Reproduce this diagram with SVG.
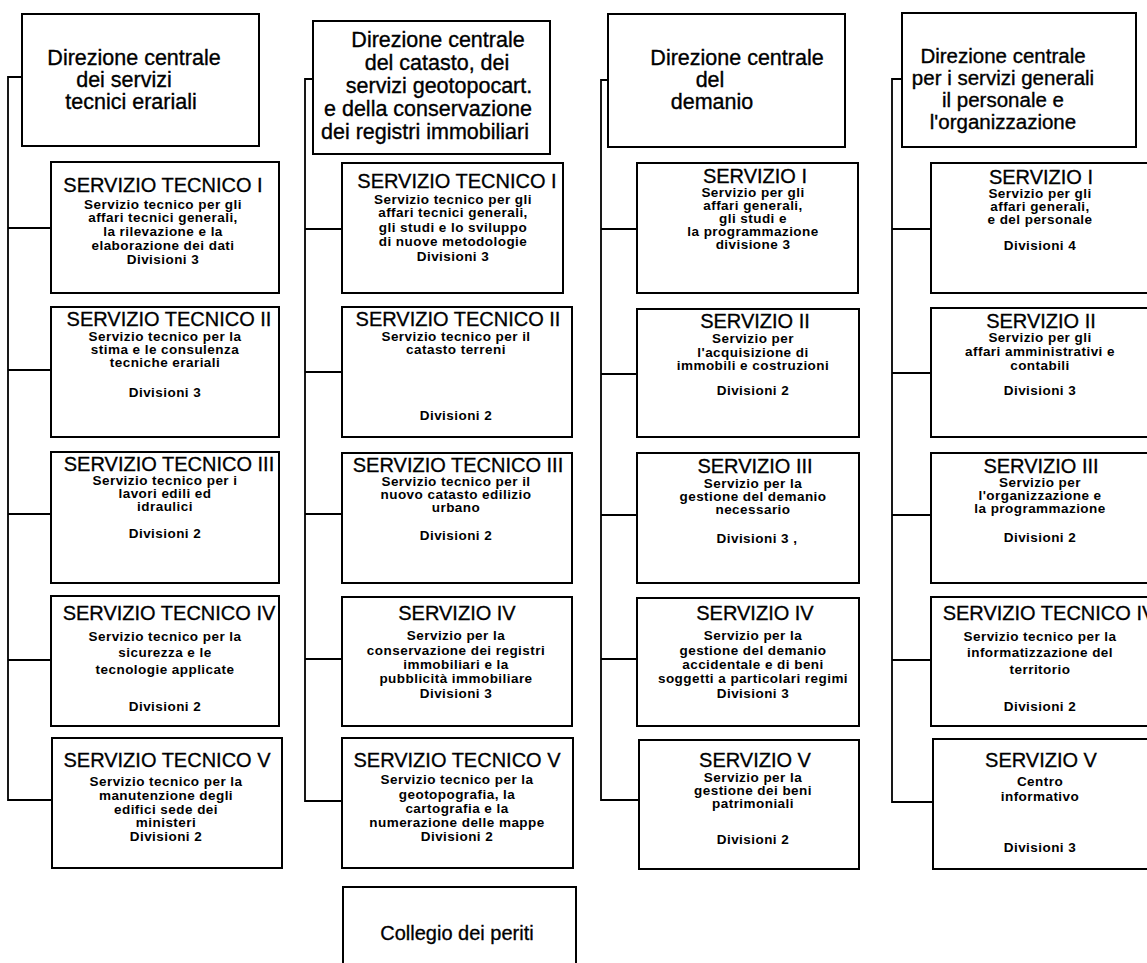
<svg xmlns="http://www.w3.org/2000/svg" width="1147" height="963" viewBox="0 0 1147 963">
  <style>
    .box { fill: #fff; stroke: #000; stroke-width: 2; }
    .link { fill: none; stroke: #000; stroke-width: 1.8; }
    text { font-family: "Liberation Sans", Arial, Helvetica, sans-serif; fill: #000; text-anchor: middle; }
    .hd { font-size: 21.5px; stroke: #000; stroke-width: 0.35; }
    .hd2 { font-size: 20.5px; }
    .tt { font-size: 20px; stroke: #000; stroke-width: 0.3; }
    .sb { font-size: 13.5px; font-weight: bold; letter-spacing: 0.45px; }
  </style>
  <rect width="1147" height="963" fill="#fff"/>

  <!-- connectors: one trunk per directorate with a stub to each service -->
  <g id="connectors">
    <path class="link" d="M22,77 H8 V800 H52 M8,228 H51 M8,370 H51 M8,514 H51 M8,660 H51"/>
    <path class="link" d="M313,79 H305 V801 H342 M305,229 H342 M305,372 H342 M305,514 H342 M305,659 H342"/>
    <path class="link" d="M608,80 H601 V800 H639 M601,229 H637 M601,374 H637 M601,515 H637 M601,659 H637"/>
    <path class="link" d="M902,79 H892 V802 H933 M892,229 H931 M892,373 H931 M892,515 H931 M892,660 H931"/>
  </g>

  <!-- column 1 -->
  <g id="dir-tecnici">
    <rect class="box" x="22" y="14" width="237" height="132"/>
    <text class="hd" x="134" y="65">Direzione centrale</text>
    <text class="hd" x="124" y="87">dei servizi</text>
    <text class="hd" x="131" y="109">tecnici erariali</text>
  </g>
  <g id="c1-s1">
    <rect class="box" x="51" y="162" width="228" height="131"/>
    <text class="tt" x="163" y="192">SERVIZIO TECNICO I</text>
    <text class="sb" x="163" y="209">Servizio tecnico per gli</text>
    <text class="sb" x="163" y="222">affari tecnici generali,</text>
    <text class="sb" x="163" y="236">la rilevazione e la</text>
    <text class="sb" x="163" y="250">elaborazione dei dati</text>
    <text class="sb" x="163" y="264">Divisioni 3</text>
  </g>
  <g id="c1-s2">
    <rect class="box" x="51" y="307" width="228" height="130"/>
    <text class="tt" x="169" y="326">SERVIZIO TECNICO II</text>
    <text class="sb" x="165" y="341">Servizio tecnico per la</text>
    <text class="sb" x="165" y="354">stima e le consulenza</text>
    <text class="sb" x="165" y="367">tecniche erariali</text>
    <text class="sb" x="165" y="397">Divisioni 3</text>
  </g>
  <g id="c1-s3">
    <rect class="box" x="51" y="452" width="228" height="131"/>
    <text class="tt" x="169" y="471">SERVIZIO TECNICO III</text>
    <text class="sb" x="165" y="485">Servizio tecnico per i</text>
    <text class="sb" x="165" y="498">lavori edili ed</text>
    <text class="sb" x="165" y="511">idraulici</text>
    <text class="sb" x="165" y="538">Divisioni 2</text>
  </g>
  <g id="c1-s4">
    <rect class="box" x="51" y="596" width="228" height="130"/>
    <text class="tt" x="169" y="620">SERVIZIO TECNICO IV</text>
    <text class="sb" x="165" y="641">Servizio tecnico per la</text>
    <text class="sb" x="165" y="657">sicurezza e le</text>
    <text class="sb" x="165" y="674">tecnologie applicate</text>
    <text class="sb" x="165" y="711">Divisioni 2</text>
  </g>
  <g id="c1-s5">
    <rect class="box" x="52" y="738" width="230" height="130"/>
    <text class="tt" x="167" y="767">SERVIZIO TECNICO V</text>
    <text class="sb" x="166" y="786">Servizio tecnico per la</text>
    <text class="sb" x="166" y="800">manutenzione degli</text>
    <text class="sb" x="166" y="814">edifici sede dei</text>
    <text class="sb" x="166" y="827">ministeri</text>
    <text class="sb" x="166" y="841">Divisioni 2</text>
  </g>

  <!-- column 2 -->
  <g id="dir-catasto">
    <rect class="box" x="313" y="21" width="237" height="133"/>
    <text class="hd" x="438" y="47">Direzione centrale</text>
    <text class="hd" x="437" y="70">del catasto, dei</text>
    <text class="hd" x="439" y="93">servizi geotopocart.</text>
    <text class="hd" x="428" y="116">e della conservazione</text>
    <text class="hd" x="425" y="139">dei registri immobiliari</text>
  </g>
  <g id="c2-s1">
    <rect class="box" x="342" y="163" width="221" height="130"/>
    <text class="tt" x="457" y="188">SERVIZIO TECNICO I</text>
    <text class="sb" x="453" y="204">Servizio tecnico per gli</text>
    <text class="sb" x="453" y="217">affari tecnici generali,</text>
    <text class="sb" x="453" y="232">gli studi e lo sviluppo</text>
    <text class="sb" x="453" y="246">di nuove metodologie</text>
    <text class="sb" x="453" y="261">Divisioni 3</text>
  </g>
  <g id="c2-s2">
    <rect class="box" x="342" y="307" width="230" height="130"/>
    <text class="tt" x="458" y="326">SERVIZIO TECNICO II</text>
    <text class="sb" x="456" y="341">Servizio tecnico per il</text>
    <text class="sb" x="456" y="354">catasto terreni</text>
    <text class="sb" x="456" y="420">Divisioni 2</text>
  </g>
  <g id="c2-s3">
    <rect class="box" x="342" y="453" width="230" height="130"/>
    <text class="tt" x="458" y="472">SERVIZIO TECNICO III</text>
    <text class="sb" x="456" y="486">Servizio tecnico per il</text>
    <text class="sb" x="456" y="499">nuovo catasto edilizio</text>
    <text class="sb" x="456" y="512">urbano</text>
    <text class="sb" x="456" y="540">Divisioni 2</text>
  </g>
  <g id="c2-s4">
    <rect class="box" x="342" y="597" width="230" height="129"/>
    <text class="tt" x="457" y="620">SERVIZIO IV</text>
    <text class="sb" x="456" y="640">Servizio per la</text>
    <text class="sb" x="456" y="655">conservazione dei registri</text>
    <text class="sb" x="456" y="669">immobiliari e la</text>
    <text class="sb" x="456" y="683">pubblicità immobiliare</text>
    <text class="sb" x="456" y="698">Divisioni 3</text>
  </g>
  <g id="c2-s5">
    <rect class="box" x="342" y="738" width="231" height="130"/>
    <text class="tt" x="457" y="767">SERVIZIO TECNICO V</text>
    <text class="sb" x="457" y="784">Servizio tecnico per la</text>
    <text class="sb" x="457" y="799">geotopografia, la</text>
    <text class="sb" x="457" y="813">cartografia e la</text>
    <text class="sb" x="457" y="827">numerazione delle mappe</text>
    <text class="sb" x="457" y="841">Divisioni 2</text>
  </g>
  <g id="collegio">
    <rect class="box" x="343" y="887" width="233" height="90"/>
    <text class="tt" x="457" y="940">Collegio dei periti</text>
  </g>

  <!-- column 3 -->
  <g id="dir-demanio">
    <rect class="box" x="608" y="14" width="237" height="133"/>
    <text class="hd" x="737" y="65">Direzione centrale</text>
    <text class="hd" x="710" y="87">del</text>
    <text class="hd" x="712" y="109">demanio</text>
  </g>
  <g id="c3-s1">
    <rect class="box" x="637" y="163" width="221" height="130"/>
    <text class="tt" x="755" y="183">SERVIZIO I</text>
    <text class="sb" x="753" y="197">Servizio per gli</text>
    <text class="sb" x="753" y="210">affari generali,</text>
    <text class="sb" x="753" y="223">gli studi e</text>
    <text class="sb" x="753" y="236">la programmazione</text>
    <text class="sb" x="753" y="249">divisione 3</text>
  </g>
  <g id="c3-s2">
    <rect class="box" x="637" y="309" width="222" height="128"/>
    <text class="tt" x="755" y="328">SERVIZIO II</text>
    <text class="sb" x="753" y="343">Servizio per</text>
    <text class="sb" x="753" y="357">l'acquisizione di</text>
    <text class="sb" x="753" y="370">immobili e costruzioni</text>
    <text class="sb" x="753" y="395">Divisioni 2</text>
  </g>
  <g id="c3-s3">
    <rect class="box" x="637" y="453" width="222" height="130"/>
    <text class="tt" x="755" y="473">SERVIZIO III</text>
    <text class="sb" x="753" y="488">Servizio per la</text>
    <text class="sb" x="753" y="501">gestione del demanio</text>
    <text class="sb" x="753" y="514">necessario</text>
    <text class="sb" x="757" y="543">Divisioni 3 ,</text>
  </g>
  <g id="c3-s4">
    <rect class="box" x="637" y="598" width="222" height="128"/>
    <text class="tt" x="755" y="620">SERVIZIO IV</text>
    <text class="sb" x="753" y="640">Servizio per la</text>
    <text class="sb" x="753" y="655">gestione del demanio</text>
    <text class="sb" x="753" y="669">accidentale e di beni</text>
    <text class="sb" x="753" y="683">soggetti a particolari regimi</text>
    <text class="sb" x="753" y="698">Divisioni 3</text>
  </g>
  <g id="c3-s5">
    <rect class="box" x="639" y="740" width="220" height="129"/>
    <text class="tt" x="755" y="767">SERVIZIO V</text>
    <text class="sb" x="753" y="782">Servizio per la</text>
    <text class="sb" x="753" y="795">gestione dei beni</text>
    <text class="sb" x="753" y="808">patrimoniali</text>
    <text class="sb" x="753" y="844">Divisioni 2</text>
  </g>

  <!-- column 4 -->
  <g id="dir-servizi-generali">
    <rect class="box" x="902" y="13" width="234" height="134"/>
    <text class="hd hd2" x="1003" y="63">Direzione centrale</text>
    <text class="hd hd2" x="1003" y="85">per i servizi generali</text>
    <text class="hd hd2" x="1003" y="107">il personale e</text>
    <text class="hd hd2" x="1003" y="129">l'organizzazione</text>
  </g>
  <g id="c4-s1">
    <rect class="box" x="931" y="163" width="230" height="130"/>
    <text class="tt" x="1041" y="184">SERVIZIO I</text>
    <text class="sb" x="1040" y="198">Servizio per gli</text>
    <text class="sb" x="1040" y="211">affari generali,</text>
    <text class="sb" x="1040" y="224">e del personale</text>
    <text class="sb" x="1040" y="250">Divisioni 4</text>
  </g>
  <g id="c4-s2">
    <rect class="box" x="931" y="308" width="230" height="129"/>
    <text class="tt" x="1041" y="328">SERVIZIO II</text>
    <text class="sb" x="1040" y="342">Servizio per gli</text>
    <text class="sb" x="1040" y="356">affari amministrativi e</text>
    <text class="sb" x="1040" y="370">contabili</text>
    <text class="sb" x="1040" y="395">Divisioni 3</text>
  </g>
  <g id="c4-s3">
    <rect class="box" x="931" y="453" width="230" height="130"/>
    <text class="tt" x="1041" y="473">SERVIZIO III</text>
    <text class="sb" x="1040" y="487">Servizio per</text>
    <text class="sb" x="1040" y="500">l'organizzazione e</text>
    <text class="sb" x="1040" y="513">la programmazione</text>
    <text class="sb" x="1040" y="542">Divisioni 2</text>
  </g>
  <g id="c4-s4">
    <rect class="box" x="931" y="597" width="230" height="129"/>
    <text class="tt" x="1049" y="620">SERVIZIO TECNICO IV</text>
    <text class="sb" x="1040" y="641">Servizio tecnico per la</text>
    <text class="sb" x="1040" y="657">informatizzazione del</text>
    <text class="sb" x="1040" y="674">territorio</text>
    <text class="sb" x="1040" y="711">Divisioni 2</text>
  </g>
  <g id="c4-s5">
    <rect class="box" x="933" y="739" width="228" height="130"/>
    <text class="tt" x="1041" y="767">SERVIZIO V</text>
    <text class="sb" x="1040" y="786">Centro</text>
    <text class="sb" x="1040" y="801">informativo</text>
    <text class="sb" x="1040" y="852">Divisioni 3</text>
  </g>
</svg>
